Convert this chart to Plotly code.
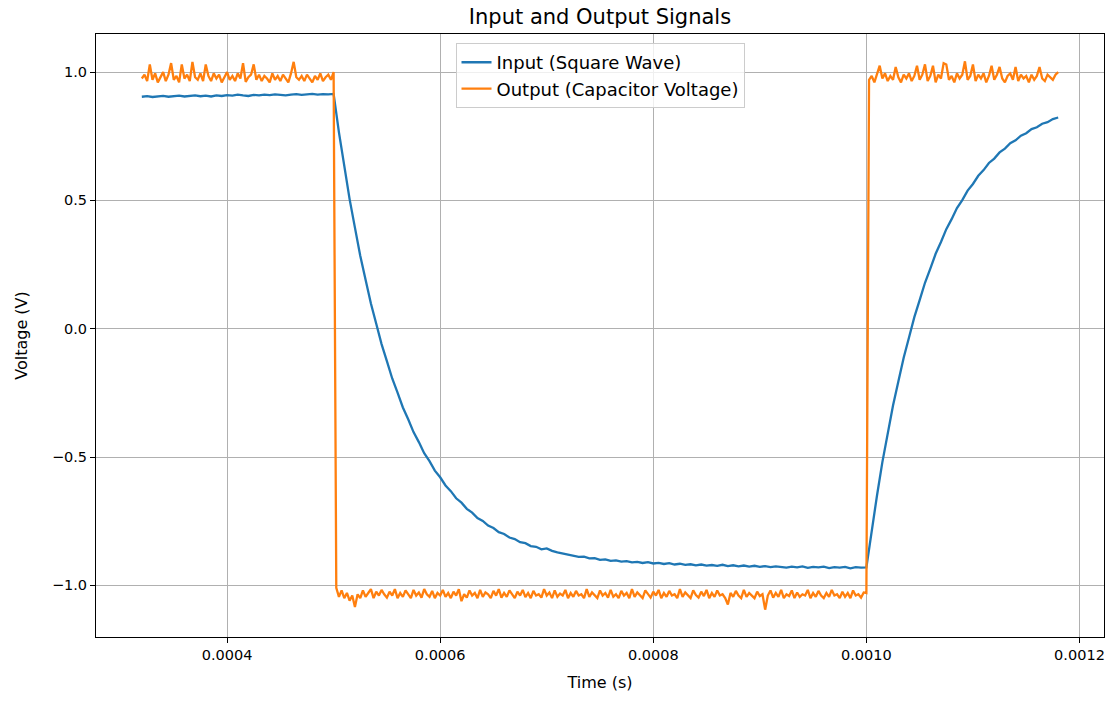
import numpy as np
import plotly.graph_objects as go

# ---------------- data ----------------
T_START = 0.00032          # first sample time (s)
DT_INPUT = 5e-6            # sample spacing of the blue trace
DT_OUTPUT = 2.5e-6         # sample spacing of the orange trace

input_high = [0.904, 0.906, 0.903, 0.905, 0.907, 0.904, 0.906, 0.908, 0.905, 0.907,
              0.909, 0.906, 0.908, 0.905, 0.909, 0.907, 0.910, 0.908, 0.912, 0.909,
              0.907, 0.911, 0.909, 0.912, 0.910, 0.913, 0.911, 0.909, 0.912, 0.914,
              0.911, 0.913, 0.915, 0.912, 0.914, 0.913, 0.915]
input_fall = [0.765, 0.634, 0.505, 0.394, 0.284, 0.191, 0.098, 0.019, -0.060, -0.126,
              -0.194, -0.249, -0.307, -0.353, -0.403, -0.442, -0.485, -0.516, -0.553, -0.579,
              -0.611, -0.633, -0.661, -0.678, -0.702, -0.717, -0.738, -0.749, -0.767, -0.777,
              -0.793, -0.800, -0.814, -0.820, -0.832, -0.836, -0.847, -0.850, -0.860, -0.856,
              -0.866, -0.872, -0.876, -0.881, -0.885, -0.889, -0.888, -0.895, -0.894, -0.901,
              -0.899, -0.905, -0.903, -0.908, -0.906, -0.911, -0.909, -0.913, -0.910, -0.915,
              -0.913, -0.917, -0.914, -0.919, -0.916, -0.920, -0.918, -0.922, -0.919, -0.923,
              -0.921, -0.924, -0.920, -0.925, -0.922, -0.926, -0.923, -0.927, -0.924, -0.928,
              -0.925, -0.929, -0.926, -0.928, -0.931, -0.927, -0.930, -0.926, -0.932, -0.928,
              -0.930, -0.927, -0.933, -0.929, -0.931, -0.928, -0.934, -0.929, -0.931, -0.930]
input_rise = [-0.780, -0.649, -0.520, -0.409, -0.299, -0.206, -0.113, -0.034, 0.045, 0.111,
              0.179, 0.234, 0.292, 0.338, 0.388, 0.427, 0.470, 0.501, 0.538, 0.564,
              0.596, 0.618, 0.646, 0.663, 0.687, 0.702, 0.723, 0.734, 0.752, 0.762,
              0.778, 0.785, 0.799, 0.805, 0.817, 0.823]

output_high1 = [0.975, 0.99, 0.965, 1.03, 0.97, 0.995, 0.96, 0.98, 1.0, 0.965,
                0.99, 1.035, 0.97, 0.985, 0.96, 1.03, 0.975, 0.99, 0.965, 1.04,
                0.98, 0.97, 0.995, 0.965, 1.03, 0.985, 0.965, 0.995, 0.975, 0.99,
                0.96, 0.98, 1.0, 0.97, 0.985, 0.965, 0.995, 0.975, 1.035, 0.962,
                0.98, 0.99, 1.03, 0.97, 0.99, 0.965, 0.985, 0.975, 0.96, 0.995,
                0.97, 0.985, 0.965, 0.99, 0.975, 0.96, 0.995, 1.04, 0.98, 0.97,
                0.985, 0.965, 0.99, 0.975, 0.96, 0.985, 0.97, 0.995, 0.965, 0.98,
                0.99, 0.97, 1.0]
output_low = [-1.01, -1.045, -1.02, -1.05, -1.03, -1.06, -1.04, -1.085, -1.035, -1.05,
              -1.02, -1.045, -1.03, -1.015, -1.05, -1.025, -1.04, -1.018, -1.035, -1.048,
              -1.025, -1.04, -1.015, -1.05, -1.03, -1.045, -1.02, -1.035, -1.05, -1.018,
              -1.04, -1.028, -1.048, -1.015, -1.035, -1.045, -1.022, -1.05, -1.03, -1.04,
              -1.018, -1.045, -1.03, -1.05, -1.025, -1.04, -1.015, -1.062, -1.035, -1.048,
              -1.02, -1.04, -1.03, -1.05, -1.018, -1.045, -1.028, -1.035, -1.05, -1.022,
              -1.04, -1.015, -1.048, -1.03, -1.045, -1.02, -1.035, -1.05, -1.025, -1.04,
              -1.018, -1.046, -1.03, -1.05, -1.022, -1.04, -1.035, -1.048, -1.015, -1.04,
              -1.028, -1.05, -1.02, -1.045, -1.032, -1.04, -1.018, -1.05, -1.03, -1.045,
              -1.022, -1.04, -1.035, -1.05, -1.015, -1.045, -1.028, -1.04, -1.05, -1.02,
              -1.04, -1.03, -1.048, -1.018, -1.045, -1.035, -1.05, -1.022, -1.04, -1.03,
              -1.05, -1.015, -1.045, -1.028, -1.04, -1.05, -1.02, -1.035, -1.048, -1.025,
              -1.04, -1.018, -1.05, -1.03, -1.045, -1.022, -1.04, -1.035, -1.05, -1.015,
              -1.045, -1.028, -1.04, -1.05, -1.02, -1.038, -1.048, -1.025, -1.042, -1.018,
              -1.05, -1.03, -1.045, -1.02, -1.04, -1.035, -1.05, -1.075, -1.03, -1.045,
              -1.022, -1.04, -1.05, -1.018, -1.045, -1.03, -1.04, -1.05, -1.025, -1.042,
              -1.035, -1.095, -1.04, -1.02, -1.048, -1.03, -1.045, -1.018, -1.05, -1.035,
              -1.042, -1.02, -1.05, -1.028, -1.045, -1.035, -1.04, -1.018, -1.05, -1.03,
              -1.045, -1.022, -1.04, -1.05, -1.03, -1.045, -1.018, -1.04, -1.035, -1.05,
              -1.025, -1.045, -1.03, -1.05, -1.02, -1.04, -1.035, -1.048, -1.028, -1.03]
output_high2 = [0.97, 0.985, 0.96, 0.99, 1.025, 0.975, 0.995, 0.965, 0.985, 0.97,
                1.02, 0.98, 0.96, 0.99, 0.975, 0.995, 0.965, 0.985, 1.025, 0.97,
                0.99, 1.03, 0.965, 0.985, 1.025, 0.96, 0.99, 0.975, 1.035, 1.03,
                0.97, 0.985, 0.96, 0.995, 0.975, 0.99, 1.042, 0.97, 0.985, 1.03,
                0.965, 0.99, 0.975, 0.995, 0.96, 0.985, 1.025, 0.97, 0.99, 1.02,
                0.975, 0.96, 0.985, 0.995, 0.97, 1.02, 0.965, 0.99, 0.975, 0.985,
                0.96, 0.99, 0.97, 0.985, 1.02, 0.975, 0.965, 0.99, 0.98, 0.97,
                0.99, 1.0]

x_ticks = [0.0004, 0.0006, 0.0008, 0.0010, 0.0012]
y_ticks = [-1.0, -0.5, 0.0, 0.5, 1.0]

# ---------------- assemble ----------------
input_v = input_high + input_fall + input_rise
output_v = output_high1 + output_low + output_high2
t_in = T_START + DT_INPUT * np.arange(len(input_v))
t_out = T_START + DT_OUTPUT * np.arange(len(output_v))

FONT = "DejaVu Sans"

fig = go.Figure()
fig.add_trace(go.Scatter(x=t_in, y=input_v, mode="lines", name="Input (Square Wave)",
                         line=dict(color="#1f77b4", width=2.3)))
fig.add_trace(go.Scatter(x=t_out, y=output_v, mode="lines", name="Output (Capacitor Voltage)",
                         line=dict(color="#ff7f0e", width=2.3)))

axis_common = dict(showline=True, linecolor="black", linewidth=1, mirror=True,
                   ticks="outside", ticklen=5, tickwidth=1, tickcolor="black",
                   showgrid=True, gridcolor="#b0b0b0", gridwidth=1, zeroline=False,
                   tickfont=dict(family=FONT, size=14.5, color="black"))

fig.update_layout(
    width=1118, height=702,
    margin=dict(l=96, r=14, t=34, b=65),
    paper_bgcolor="white", plot_bgcolor="white",
    font=dict(family=FONT, size=14, color="black"),
    title=dict(text="Input and Output Signals", x=0.5, xanchor="center",
               xref="paper", y=1 - 17 / 702, yanchor="middle",
               font=dict(family=FONT, size=21, color="black")),
    xaxis=dict(range=[0.000277, 0.001223], tickvals=x_ticks, tickformat=".4f",
               title=dict(text="Time (s)", standoff=14,
                          font=dict(family=FONT, size=16, color="black")),
               **axis_common),
    yaxis=dict(range=[-1.2015, 1.1485], tickvals=y_ticks, tickformat=".1f",
               title=dict(text="Voltage (V)", standoff=20,
                          font=dict(family=FONT, size=16, color="black")),
               **axis_common),
    legend=dict(x=0.5, xanchor="center", y=0.985, yanchor="top",
                bgcolor="rgba(255,255,255,0.8)", bordercolor="#cccccc", borderwidth=1,
                font=dict(family=FONT, size=18, color="black"),
                tracegroupgap=0, itemwidth=30),
    showlegend=True,
)

fig.write_html("out.html")
